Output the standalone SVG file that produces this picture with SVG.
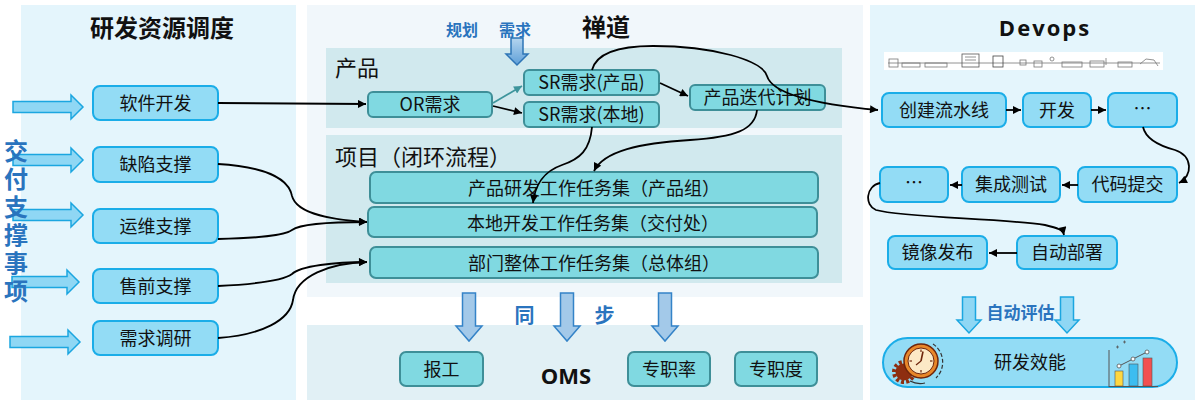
<svg xmlns="http://www.w3.org/2000/svg" width="1200" height="402" viewBox="0 0 1200 402">
<defs>
<style>
.cjk{font-family:"Noto Sans CJK SC","Microsoft YaHei",sans-serif}
.lbl{font-family:"Noto Sans CJK SC","Microsoft YaHei",sans-serif;font-size:18px;fill:#111;text-anchor:middle}
.title{font-family:"Noto Sans CJK SC","Microsoft YaHei",sans-serif;font-size:24px;font-weight:700;fill:#111;text-anchor:middle}
.sec{font-family:"Noto Sans CJK SC","Microsoft YaHei",sans-serif;font-size:22px;fill:#111}
.blue{font-family:"Noto Sans CJK SC","Microsoft YaHei",sans-serif;font-weight:700;fill:#2A74BE}
.boxb{fill:#93DCF5;stroke:#1AADE8;stroke-width:2}
.boxt{fill:#80D9E1;stroke:#3E8F98;stroke-width:2}
.conn{fill:none;stroke:#000;stroke-width:1.8}
.barr{fill:#8FD7F4;stroke:#1BA6E0;stroke-width:1.5}
.darr{fill:#A3C9E9;stroke:#3483C8;stroke-width:1.5}
</style>
<marker id="ah" viewBox="0 0 10 10" refX="10" refY="5" markerWidth="9" markerHeight="8" markerUnits="userSpaceOnUse" orient="auto"><path d="M0,0 L10,5 L0,10 Z" fill="#000"/></marker>
<marker id="aht" viewBox="0 0 10 10" refX="10" refY="5" markerWidth="9" markerHeight="8" markerUnits="userSpaceOnUse" orient="auto"><path d="M0,0 L10,5 L0,10 Z" fill="#3E959C"/></marker>
<linearGradient id="gblue" x1="0" y1="0" x2="0" y2="1"><stop offset="0" stop-color="#B5D5EF"/><stop offset="1" stop-color="#5E9FD8"/></linearGradient>
</defs>

<!-- panels -->
<g id="panels">
<rect x="21" y="5" width="275" height="395" fill="#E4F5FC"/>
<rect x="307" y="5" width="556" height="292" fill="#F1F7FB"/>
<rect x="326" y="48" width="516" height="80" fill="#D1E9EE"/>
<rect x="326" y="135" width="516" height="148" fill="#D1E9EE"/>
<rect x="307" y="325" width="556" height="75" fill="#E1F0F5"/>
<rect x="870" y="5" width="325" height="395" fill="#E4F5FC"/>
</g>

<g id="titles">
<text class="title" x="162" y="37">研发资源调度</text>
<text class="title" x="606" y="36">禅道</text>
<text x="1045" y="36" font-family="'Open Sans','Liberation Sans',sans-serif" font-size="22" font-weight="700" letter-spacing="2" text-anchor="middle" fill="#111">Devops</text>
<text class="sec" x="335" y="76">产品</text>
<text class="sec" x="335" y="165">项目（闭环流程）</text>
<text x="566" y="384" font-family="'Open Sans','Liberation Sans',sans-serif" font-size="22" font-weight="700" text-anchor="middle" fill="#111">OMS</text>
<text class="blue" x="446" y="36" font-size="16">规划</text>
<text class="blue" x="499" y="36" font-size="16">需求</text>
<text class="blue" x="524.5" y="323" font-size="20" text-anchor="middle">同</text>
<text class="blue" x="604.5" y="323" font-size="20" text-anchor="middle">步</text>
<text class="blue" x="1020.5" y="319" font-size="17" text-anchor="middle">自动评估</text>
</g>

<!-- block arrows -->
<g id="block-arrows">
<path class="barr" d="M13,101.5 H71 V95 L83,107 L71,119 V112.5 H13 Z"/>
<path class="barr" d="M13,154.5 H71 V148 L83,160 L71,172 V165.5 H13 Z"/>
<path class="barr" d="M13,209.5 H71 V203 L83,215 L71,227 V220.5 H13 Z"/>
<path class="barr" d="M12,276.5 H67 V270 L79,282 L67,294 V287.5 H12 Z"/>
<path class="barr" d="M10,336.5 H68 V330 L80,342 L68,354 V347.5 H10 Z"/>
<path d="M511,38 H523 V54 H528 L517,65 L506,54 H511 Z" fill="url(#gblue)" stroke="#2E75B6" stroke-width="1.5"/>
<path class="darr" d="M462.5,293 H475.5 V326 H482 L469,341 L456,326 H462.5 Z"/>
<path class="darr" d="M560.5,293 H573.5 V326 H580 L567,341 L554,326 H560.5 Z"/>
<path class="darr" d="M658.5,293 H671.5 V326 H678 L665,341 L652,326 H658.5 Z"/>
<path class="barr" d="M962.5,297 H975.5 V320 H981 L969,333 L957,320 H962.5 Z"/>
<path class="barr" d="M1060.5,297 H1073.5 V320 H1079 L1067,333 L1055,320 H1060.5 Z"/>
</g>

<g id="side-label">
<text class="blue" font-size="24" x="16" y="139" letter-spacing="4" style="writing-mode:vertical-rl">交付支撑事项</text>
</g>

<!-- left nodes -->
<g id="n-rjkf"><rect class="boxb" x="93" y="86" width="125" height="34" rx="7"/><text class="lbl" x="155.5" y="110">软件开发</text></g>
<g id="n-qxzc"><rect class="boxb" x="93" y="147" width="125" height="35" rx="7"/><text class="lbl" x="155.5" y="171">缺陷支撑</text></g>
<g id="n-ywzc"><rect class="boxb" x="93" y="209" width="125" height="34" rx="7"/><text class="lbl" x="155.5" y="233">运维支撑</text></g>
<g id="n-sqzc"><rect class="boxb" x="93" y="269" width="125" height="34" rx="7"/><text class="lbl" x="155.5" y="293">售前支撑</text></g>
<g id="n-xqdy"><rect class="boxb" x="93" y="321" width="125" height="34" rx="7"/><text class="lbl" x="155.5" y="345">需求调研</text></g>

<!-- chandao nodes -->
<g id="n-or"><rect class="boxt" x="368" y="92" width="124" height="25" rx="5"/><text class="lbl" x="430" y="111">OR需求</text></g>
<g id="n-srcp"><rect class="boxt" x="524" y="70" width="135" height="25" rx="5"/><text class="lbl" x="591.5" y="89">SR需求(产品)</text></g>
<g id="n-srbd"><rect class="boxt" x="524" y="102" width="135" height="25" rx="5"/><text class="lbl" x="591.5" y="121">SR需求(本地)</text></g>
<g id="n-ddjh"><rect class="boxt" x="690" y="85" width="135" height="25" rx="5"/><text class="lbl" x="757.5" y="104">产品迭代计划</text></g>
<g id="n-cpyf"><rect class="boxt" x="370" y="172" width="448" height="31" rx="6"/><text class="lbl" x="594" y="195" font-size="20">产品研发工作任务集（产品组）</text></g>
<g id="n-bdkf"><rect class="boxt" x="368" y="207" width="449" height="30" rx="6"/><text class="lbl" x="593" y="229.5" font-size="20">本地开发工作任务集（交付处）</text></g>
<g id="n-bmzt"><rect class="boxt" x="370" y="247" width="448" height="31" rx="6"/><text class="lbl" x="594" y="270" font-size="20">部门整体工作任务集（总体组）</text></g>

<!-- OMS nodes -->
<g id="n-bg"><rect class="boxt" x="400" y="352" width="83" height="34" rx="6"/><text class="lbl" x="441.5" y="376">报工</text></g>
<g id="n-zzl"><rect class="boxt" x="628" y="352" width="82" height="34" rx="6"/><text class="lbl" x="669" y="376">专职率</text></g>
<g id="n-zzd"><rect class="boxt" x="735" y="352" width="82" height="34" rx="6"/><text class="lbl" x="776" y="376">专职度</text></g>

<!-- pipeline picture -->
<g id="pipeline-pic" fill="none" stroke="#777" stroke-width="0.8">
<rect x="884" y="52" width="279" height="18" fill="#FFFFFF" stroke="none"/>
<line x1="888" y1="63" x2="1160" y2="63"/>
<rect x="889" y="59" width="9" height="8"/>
<rect x="902" y="63" width="18" height="4"/>
<rect x="925" y="63" width="22" height="4"/>
<rect x="962" y="54" width="17" height="13" stroke="#555"/>
<line x1="965" y1="57" x2="976" y2="57"/><line x1="965" y1="60" x2="976" y2="60"/>
<rect x="993" y="56" width="10" height="11" stroke="#444"/>
<rect x="1020" y="60" width="6" height="5"/>
<rect x="1034" y="61" width="8" height="6"/>
<circle cx="1052" cy="59" r="2"/>
<rect x="1062" y="62" width="20" height="5"/>
<rect x="1090" y="61" width="14" height="6"/>
<line x1="1106" y1="58" x2="1106" y2="65"/>
<rect x="1118" y="62" width="14" height="5"/>
<path d="M1140,64 L1146,59 L1154,60 L1158,66"/>
</g>

<!-- devops nodes -->
<g id="n-cjls"><rect class="boxb" x="882" y="93" width="124" height="34" rx="7"/><text class="lbl" x="944" y="117">创建流水线</text></g>
<g id="n-kf"><rect class="boxb" x="1023" y="93" width="68" height="34" rx="7"/><text class="lbl" x="1057" y="117">开发</text></g>
<g id="n-etc1"><rect class="boxb" x="1108" y="93" width="69" height="34" rx="7"/><text class="lbl" x="1142.5" y="115">…</text></g>
<g id="n-dmtj"><rect class="boxb" x="1078" y="167" width="99" height="35" rx="7"/><text class="lbl" x="1127.5" y="191">代码提交</text></g>
<g id="n-jccs"><rect class="boxb" x="962" y="167" width="98" height="35" rx="7"/><text class="lbl" x="1011" y="191">集成测试</text></g>
<g id="n-etc2"><rect class="boxb" x="880" y="167" width="68" height="35" rx="7"/><text class="lbl" x="914" y="189">…</text></g>
<g id="n-zdbs"><rect class="boxb" x="1017" y="236" width="100" height="33" rx="7"/><text class="lbl" x="1067" y="259">自动部署</text></g>
<g id="n-jxfb"><rect class="boxb" x="888" y="236" width="99" height="33" rx="7"/><text class="lbl" x="937.5" y="259">镜像发布</text></g>

<g id="n-yfxn">
<rect class="boxb" x="883" y="338" width="294" height="49" rx="24.5"/>
<text class="lbl" x="1030" y="369">研发效能</text>
<g id="clock-icon">
<circle cx="904" cy="372" r="8.5" fill="#8E2E10"/>
<circle cx="904" cy="372" r="10" fill="none" stroke="#8E2E10" stroke-width="4" stroke-dasharray="3 2.2"/>
<path d="M933,344 A22,22 0 0 1 936,378" fill="none" stroke="#333" stroke-width="1.2" stroke-dasharray="4 2"/>
<path d="M910,381 A22,22 0 0 0 925,383" fill="none" stroke="#333" stroke-width="1.2"/>
<circle cx="921" cy="361" r="17" fill="#E8872A" stroke="#6E250C" stroke-width="1.5"/>
<circle cx="921" cy="361" r="13" fill="#FCE9C6" stroke="#6E250C" stroke-width="1"/>
<g stroke="#6E250C" stroke-width="1.2">
<line x1="921" y1="349.5" x2="921" y2="352"/><line x1="921" y1="370" x2="921" y2="372.5"/>
<line x1="909.5" y1="361" x2="912" y2="361"/><line x1="930" y1="361" x2="932.5" y2="361"/>
<line x1="921" y1="361" x2="923" y2="351.5" stroke-width="1.6"/>
<line x1="921" y1="361" x2="916" y2="365"/>
</g>
</g>
<g id="chart-icon">
<line x1="1109" y1="350" x2="1109" y2="387" stroke="#555" stroke-width="1"/>
<line x1="1109" y1="386.5" x2="1158" y2="386.5" stroke="#555" stroke-width="1"/>
<rect x="1115" y="371" width="8" height="15" fill="#FFD740" stroke="#555" stroke-width="0.6"/>
<rect x="1129" y="364" width="9" height="22" fill="#3DBDF0" stroke="#555" stroke-width="0.6"/>
<rect x="1143" y="358" width="9" height="28" fill="#F25050" stroke="#555" stroke-width="0.6"/>
<polyline points="1119,366 1133,359 1147,352" fill="none" stroke="#555" stroke-width="1"/>
<circle cx="1119" cy="366" r="2" fill="#fff" stroke="#555" stroke-width="0.8"/>
<circle cx="1133" cy="359" r="2" fill="#fff" stroke="#555" stroke-width="0.8"/>
<circle cx="1147" cy="352" r="2" fill="#fff" stroke="#555" stroke-width="0.8"/>
<path d="M1116,347 h3 M1117.5,345.5 v3 M1123,342 h3 M1124.5,340.5 v3" stroke="#555" stroke-width="0.8"/>
</g>
</g>

<!-- connectors -->
<g id="connectors">
<path class="conn" d="M218,103 L366,104" marker-end="url(#ah)"/>
<path class="conn" d="M218,164 C268,167 289,180 292,196 C297,215 335,220 367,222" marker-end="url(#ah)"/>
<path class="conn" d="M218,239 C258,238 284,236 292,230 C300,224 335,222 367,222" marker-end="url(#ah)"/>
<path class="conn" d="M218,286 C258,284 284,280 292,274 C300,266 335,262 367,262" marker-end="url(#ah)"/>
<path class="conn" d="M218,338 C262,335 290,320 293,300 C296,276 330,263 367,262" marker-end="url(#ah)"/>
<path d="M493,103 L522,86" fill="none" stroke="#3E959C" stroke-width="1.8" marker-end="url(#aht)"/>
<path class="conn" d="M493,106 L522,113" marker-end="url(#ah)"/>
<path class="conn" d="M660,83 L688,96" marker-end="url(#ah)"/>
<path class="conn" d="M592,70 C597,51 623,46 653,46 C713,46 762,60 767,76 C772,93 812,104 878,110" marker-end="url(#ah)"/>
<path class="conn" d="M592,127 C590,150 580,159 562,165 C542,172 535,186 533,203" marker-end="url(#ah)"/>
<path class="conn" d="M757,110 C755,130 735,137 690,140 C640,143 604,151 594,171" marker-end="url(#ah)"/>
<path class="conn" d="M1006,110 L1021,110" marker-end="url(#ah)"/>
<path class="conn" d="M1091,110 L1106,110" marker-end="url(#ah)"/>
<path class="conn" d="M1143,127 C1146,140 1160,146 1175,150 C1193,156 1193,176 1179,183" marker-end="url(#ah)"/>
<path class="conn" d="M1078,185 L1062,185" marker-end="url(#ah)"/>
<path class="conn" d="M962,185 L950,185" marker-end="url(#ah)"/>
<path class="conn" d="M880,183 C866,186 864,205 876,210 C905,218 1000,218 1045,225 C1058,228 1063,230 1064,235" marker-end="url(#ah)"/>
<path class="conn" d="M1017,253 L989,253" marker-end="url(#ah)"/>
</g>
</svg>
